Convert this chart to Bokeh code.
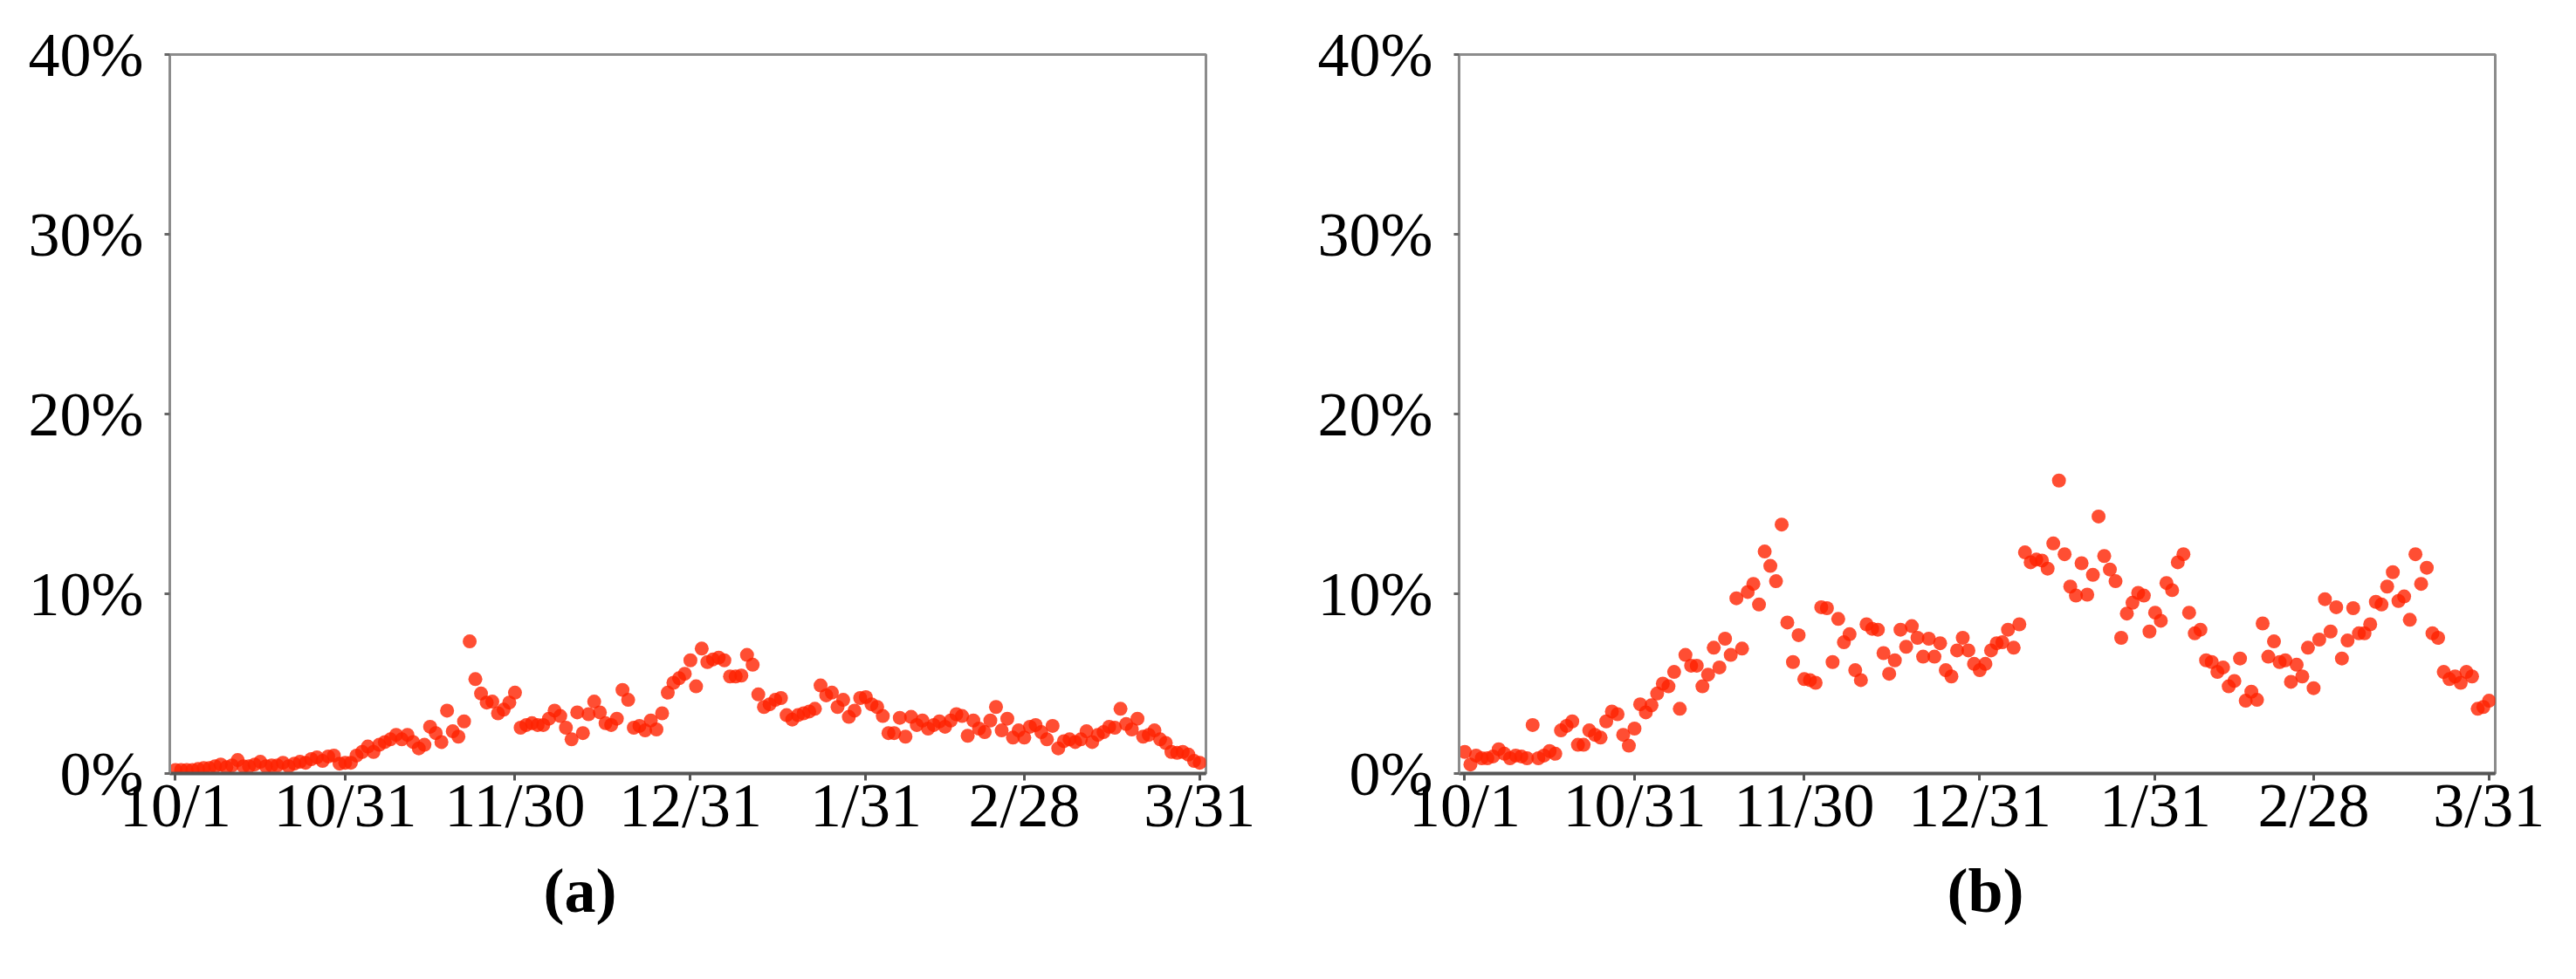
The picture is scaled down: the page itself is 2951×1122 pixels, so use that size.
from bokeh.plotting import figure
from bokeh.layouts import row
from bokeh.models import Range1d, FixedTicker, Title
from bokeh.embed import file_html
from bokeh.resources import INLINE

# ---- data (percent per day, 10/1 .. 3/31) ----
share_a = [
    0.2, 0.2, 0.2, 0.2, 0.25, 0.3, 0.3,
    0.4, 0.5, 0.35, 0.45, 0.75, 0.4, 0.4,
    0.5, 0.65, 0.4, 0.45, 0.45, 0.6, 0.4,
    0.55, 0.65, 0.6, 0.8, 0.9, 0.7, 0.95,
    1.0, 0.55, 0.6, 0.6, 1.0, 1.2, 1.5,
    1.2, 1.6, 1.75, 1.9, 2.15, 1.9, 2.15,
    1.75, 1.4, 1.6, 2.6, 2.25, 1.75, 3.5,
    2.35, 2.05, 2.9, 7.35, 5.25, 4.45, 3.95,
    4.0, 3.35, 3.55, 3.95, 4.5,
    2.55, 2.7, 2.8, 2.7, 2.7, 3.05, 3.5,
    3.2, 2.55, 1.9, 3.4, 2.25, 3.3, 4.0,
    3.4, 2.8, 2.7, 3.05, 4.65, 4.1, 2.55,
    2.65, 2.4, 2.95, 2.45, 3.35, 4.5, 5.05,
    5.3, 5.55, 6.3, 4.85, 6.95, 6.2, 6.35,
    6.45, 6.3, 5.4, 5.4, 5.45, 6.6, 6.05,
    4.4, 3.7, 3.85, 4.1, 4.2, 3.25, 3.0,
    3.25, 3.35, 3.45, 3.6, 4.9, 4.35, 4.5,
    3.7, 4.1, 3.15, 3.5, 4.2,
    4.25, 3.85, 3.7, 3.2, 2.25, 2.25, 3.1,
    2.05, 3.15, 2.7, 2.95, 2.5, 2.7, 2.9,
    2.6, 2.95, 3.3, 3.2, 2.1, 2.95, 2.5,
    2.3, 2.95, 3.7, 2.4, 3.05, 2.0, 2.4,
    2.0, 2.6, 2.7, 2.3, 1.9, 2.65, 1.4,
    1.8, 1.9, 1.75, 1.9, 2.35, 1.75, 2.15,
    2.3, 2.6, 2.55, 3.6, 2.75, 2.45, 3.05,
    2.05, 2.15, 2.4, 1.9, 1.7, 1.2, 1.15,
    1.2, 1.05, 0.7, 0.6,
]

share_b = [
    1.2, 0.5, 1.0, 0.85, 0.85, 0.95, 1.35,
    1.1, 0.85, 1.0, 0.95, 0.85, 2.7, 0.85,
    1.0, 1.25, 1.1, 2.4, 2.65, 2.9, 1.6,
    1.6, 2.4, 2.15, 2.0, 2.9, 3.45, 3.3,
    2.15, 1.55, 2.5, 3.85, 3.4, 3.8, 4.45,
    5.0, 4.85, 5.65, 3.6, 6.6, 6.0, 6.0,
    4.85, 5.5, 7.0, 5.9, 7.5, 6.6, 9.75,
    6.95, 10.1, 10.55, 9.4, 12.35, 11.55, 10.7,
    13.85, 8.4, 6.2, 7.7, 5.25, 5.2, 5.05,
    9.25, 9.2, 6.2, 8.6, 7.3, 7.75, 5.75,
    5.2, 8.3, 8.05, 8.0, 6.7, 5.55, 6.3,
    8.0, 7.05, 8.2, 7.55, 6.5, 7.5, 6.5,
    7.25, 5.75, 5.4, 6.85, 7.55, 6.85, 6.1,
    5.75, 6.1, 6.85, 7.25, 7.3, 8.0, 7.0,
    8.3, 12.3, 11.75, 11.9, 11.85, 11.4, 12.8,
    16.3, 12.2, 10.4, 9.9, 11.7, 9.95, 11.05,
    14.3, 12.1, 11.35, 10.7, 7.55, 8.9, 9.5,
    10.05, 9.9, 7.9, 8.95, 8.5, 10.6, 10.2,
    11.75, 12.2, 8.95, 7.8, 8.0, 6.3, 6.2,
    5.65, 5.9, 4.85, 5.15, 6.4, 4.05, 4.55,
    4.1, 8.35, 6.5, 7.35, 6.2, 6.3, 5.1,
    6.05, 5.4, 7.0, 4.75, 7.45, 9.7, 7.9,
    9.25, 6.4, 7.4, 9.2, 7.8, 7.8, 8.3,
    9.55, 9.4, 10.4, 11.2, 9.6, 9.85, 8.55,
    12.2, 10.55, 11.45, 7.8, 7.55, 5.65, 5.25,
    5.4, 5.05, 5.65, 5.4, 3.6, 3.7, 4.05,
]

tick_days = [0, 30, 60, 91, 122, 150, 181]
tick_labels = ["10/1", "10/31", "11/30", "12/31", "1/31", "2/28", "3/31"]
y_ticks = [0, 10, 20, 30, 40]
y_labels = ["0%", "10%", "20%", "30%", "40%"]
panel_labels = ["(a)", "(b)"]

FONT = "Liberation Serif"
H = 1100


def make_panel(values, tag, width, b_left, b_right, tag_offset):
    days = list(range(len(values)))
    p = figure(width=width, height=H,
               x_range=Range1d(-1.0, 182.1), y_range=Range1d(0, 40),
               output_backend="svg", toolbar_location=None,
               min_border_left=b_left, min_border_right=b_right,
               min_border_top=62, min_border_bottom=H - 62 - 824)
    p.background_fill_color = "white"
    p.border_fill_color = "white"
    p.xgrid.visible = False
    p.ygrid.visible = False
    p.outline_line_color = "#8c8c8c"
    p.outline_line_width = 3

    p.scatter(x=days, y=values, size=16, fill_color="#ff2200", fill_alpha=0.8,
              line_color=None)

    xa = p.xaxis[0]
    xa.ticker = FixedTicker(ticks=tick_days)
    xa.major_label_overrides = {d: t for d, t in zip(tick_days, tick_labels)}
    xa.minor_tick_line_color = None
    xa.major_tick_out = 8
    xa.major_tick_in = 0
    xa.major_tick_line_width = 3
    xa.major_tick_line_color = "#555555"
    xa.axis_line_width = 4
    xa.axis_line_color = "#555555"
    xa.major_label_text_font = FONT
    xa.major_label_text_font_size = "72px"
    xa.major_label_text_color = "black"
    xa.major_label_standoff = -12

    ya = p.yaxis[0]
    ya.ticker = FixedTicker(ticks=y_ticks)
    ya.major_label_overrides = {v: t for v, t in zip(y_ticks, y_labels)}
    ya.minor_tick_line_color = None
    ya.major_tick_out = 6
    ya.major_tick_in = 0
    ya.major_tick_line_width = 3
    ya.major_tick_line_color = "#666666"
    ya.axis_line_width = 3
    ya.axis_line_color = "#8c8c8c"
    ya.major_label_text_font = FONT
    ya.major_label_text_font_size = "72px"
    ya.major_label_text_color = "black"
    ya.major_label_standoff = 24

    p.add_layout(Title(text=tag, align="left", offset=tag_offset, standoff=26,
                       text_font=FONT, text_font_size="72px",
                       text_font_style="bold", text_color="black"), "below")
    return p


p1 = make_panel(share_a, panel_labels[0], 1470, 194, 89, 428)
p2 = make_panel(share_b, panel_labels[1], 1465, 201, 77, 559)

layout = row(p1, p2)
open("out.html", "w").write(file_html(layout, INLINE))
